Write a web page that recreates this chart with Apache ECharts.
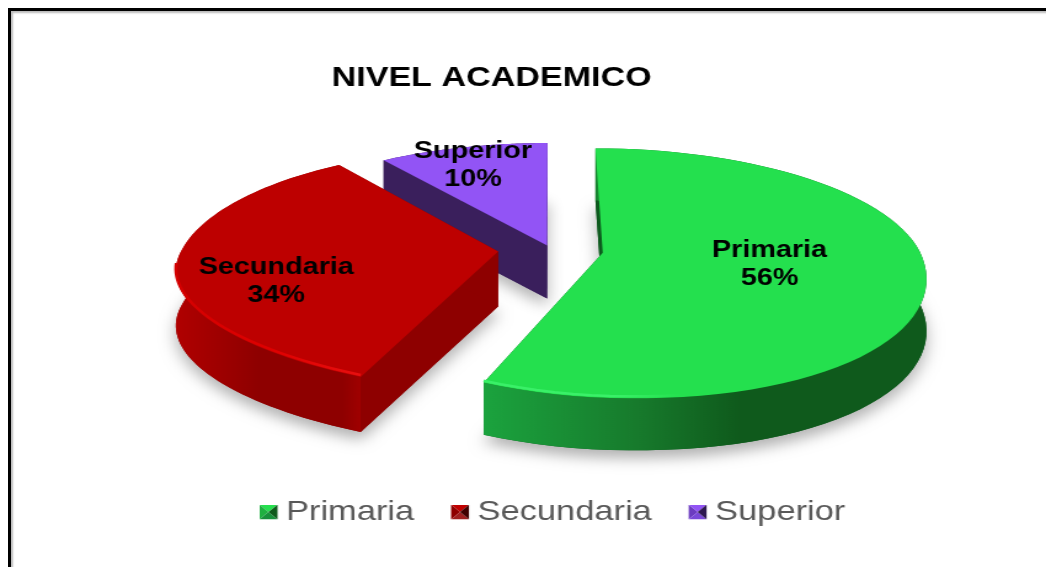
<!DOCTYPE html>
<html><head><meta charset="utf-8">
<style>
html,body{margin:0;padding:0;background:#fff;overflow:hidden;width:1046px;height:567px}
#frame{position:absolute;left:8px;top:8px;width:1060px;height:580px;border:3px solid #000;box-shadow:inset 2px 2px 2px #bbb}
#chart{position:absolute;left:0;top:0;width:850px;height:567px;transform:scaleX(1.2306);transform-origin:0 0}
</style>
<script src="https://cdn.jsdelivr.net/npm/echarts@6/dist/echarts.min.js"></script>
</head><body>
<div id="frame"></div>
<div id="chart"></div>
<script>
const categories = ['Primaria', 'Secundaria', 'Superior'];
const values = [56, 34, 10];
const chartTitle = 'NIVEL ACADEMICO';

const explode = [0.169, 0.165, 0.03];
const sideDepth = [52, 55, 53];
const faceColors = ['#24e04e', '#bd0000', '#9254f5'];
const wallColors = ['#0d5a1e', '#8e0000', '#3a1f5c'];
const sideStops = [
  [[0,'#1ba33e'],[0.35,'#177a2c'],[0.58,'#0f5a1c'],[1,'#0f5a1c']],
  [[0,'#b00000'],[0.45,'#8e0000'],[0.9,'#8e0000'],[1,'#a00000']],
  [[0,'#3a1f5c'],[1,'#3a1f5c']]
];
const rimStops = [
  [[0,'#3af068'],[0.3,'#3af068'],[0.45,'rgba(58,240,104,0)'],[1,'rgba(58,240,104,0)']],
  [[0,'#d40000'],[0.5,'#de0000'],[1,'#e81010']],
  [[0,'rgba(0,0,0,0)'],[1,'rgba(0,0,0,0)']]
];
const labelAnchor = [[0.514,0.095],[-0.666,0.26],[-0.265,-0.755]];
const legendIcons = [
  ['#25e04e','#1fb040','#17903a','#0f5a1c'],
  ['#c00000','#8e0000','#a02020','#400000'],
  ['#9254f5','#6c3cc0','#7a48d8','#2e1850']
].map(c => 'image://data:image/svg+xml;utf8,' + encodeURIComponent(
  '<svg xmlns="http://www.w3.org/2000/svg" width="15.4" height="15" viewBox="0 0 19 15" preserveAspectRatio="none">' +
  '<polygon points="0,0 19,0 9.5,7.5" fill="'+c[0]+'"/><polygon points="0,0 0,15 9.5,7.5" fill="'+c[1]+'"/>' +
  '<polygon points="0,15 19,15 9.5,7.5" fill="'+c[2]+'"/><polygon points="19,0 19,15 9.5,7.5" fill="'+c[3]+'"/></svg>'));

const SCALE = 1.2306, CX = 550 / SCALE, CY = 249, RX = 316 / SCALE, RY = 120, K = 0.16, START = 0;
const total = values.reduce((a, b) => a + b, 0);
const proj = (U, V) => {
  const d = 1 - K * V, f = Math.max(V, 0);
  const x = RX * U / d, y = RY * V / d;
  return [CX + x + 8 * f * f, CY + y + (x < 0 ? 0.035 : 0.015) * x * SCALE * f];
};

function renderSlice(params, api) {
  const i = params.seriesIndex;
  let before = 0;
  for (let j = 0; j < i; j++) before += values[j];
  const toAngle = v => echarts.number.linearMap(v, [0, total], [0, 360]) + START;
  const a0 = toAngle(before), a1 = toAngle(before + api.value(0));
  const mid = (a0 + a1) / 2 * Math.PI / 180;
  const ou = explode[i] * Math.sin(mid), ov = -explode[i] * Math.cos(mid);
  const down = p => [p[0], p[1] + sideDepth[i]];
  const steps = 72, top = [], bot = [], front = [];
  for (let s = 0; s <= steps; s++) {
    const t = (a0 + (a1 - a0) * s / steps) * Math.PI / 180;
    const V = ov - Math.cos(t);
    const p = proj(ou + Math.sin(t), V);
    top.push(p); bot.push(down(p));
    if (-Math.cos(t) > 0.12) front.push([p[0], p[1] - 2]);
  }
  const apex = proj(ou, ov), apexD = down(apex);
  const sector = [apex].concat(top);
  const foot = [apexD].concat(bot);
  const grad = st => new echarts.graphic.LinearGradient(0, 0, 1, 0, st.map(s => ({offset: s[0], color: s[1]})));
  const anchor = proj(ou + labelAnchor[i][0], ov + labelAnchor[i][1]);
  const children = [
    {type:'polygon', silent:true, shape:{points:foot},
      style:{fill:wallColors[i], shadowBlur:14, shadowOffsetY:8, shadowColor:'rgba(0,0,0,0.3)'}},
    {type:'polygon', silent:true, shape:{points:[apex, top[0], bot[0], apexD]}, style:{fill:wallColors[i]}},
    {type:'polygon', silent:true, shape:{points:[apex, top[steps], bot[steps], apexD]}, style:{fill:wallColors[i]}},
    {type:'polygon', silent:true, shape:{points:top.concat(bot.slice().reverse())}, style:{fill:grad(sideStops[i])}},
    {type:'polygon', silent:true, shape:{points:sector}, style:{fill:faceColors[i]}}
  ];
  if (front.length > 1) children.push({type:'polyline', silent:true, shape:{points:front},
    style:{fill:null, stroke:grad(rimStops[i]), lineWidth:2.5}});
  children.push({type:'text', silent:true, x:anchor[0], y:anchor[1], z2:100, style:{
    text: categories[i] + '\n' + Math.round(api.value(0) / total * 100) + '%',
    fontFamily:'Liberation Sans', fontWeight:'bold', fontSize:23.4, lineHeight:28,
    fill:'#000', align:'center', verticalAlign:'middle'}});
  return {type:'group', children};
}

const chart = echarts.init(document.getElementById('chart'));
chart.setOption({
  animation:false,
  backgroundColor:'transparent',
  title:{text:chartTitle, left:269.5, top:64, padding:0,
    textStyle:{fontFamily:'Liberation Sans', fontWeight:'bold', fontSize:27.7, color:'#000'}},
  legend:{left:210.5, top:498, padding:0, itemWidth:15.4, itemHeight:15, itemGap:29.5,
    textStyle:{fontFamily:'Liberation Sans', fontSize:28, color:'#595959', padding:[0,0,0,1.5]},
    data:categories.map((n, i) => ({name:n, icon:legendIcons[i]}))},
  series:categories.map((n, i) => ({
    type:'custom', name:n, coordinateSystem:'none', clip:false, silent:true,
    z:[2,3,1][i], itemStyle:{color:faceColors[i]},
    renderItem:renderSlice, data:[[values[i]]]
  }))
});
</script>
</body></html>
